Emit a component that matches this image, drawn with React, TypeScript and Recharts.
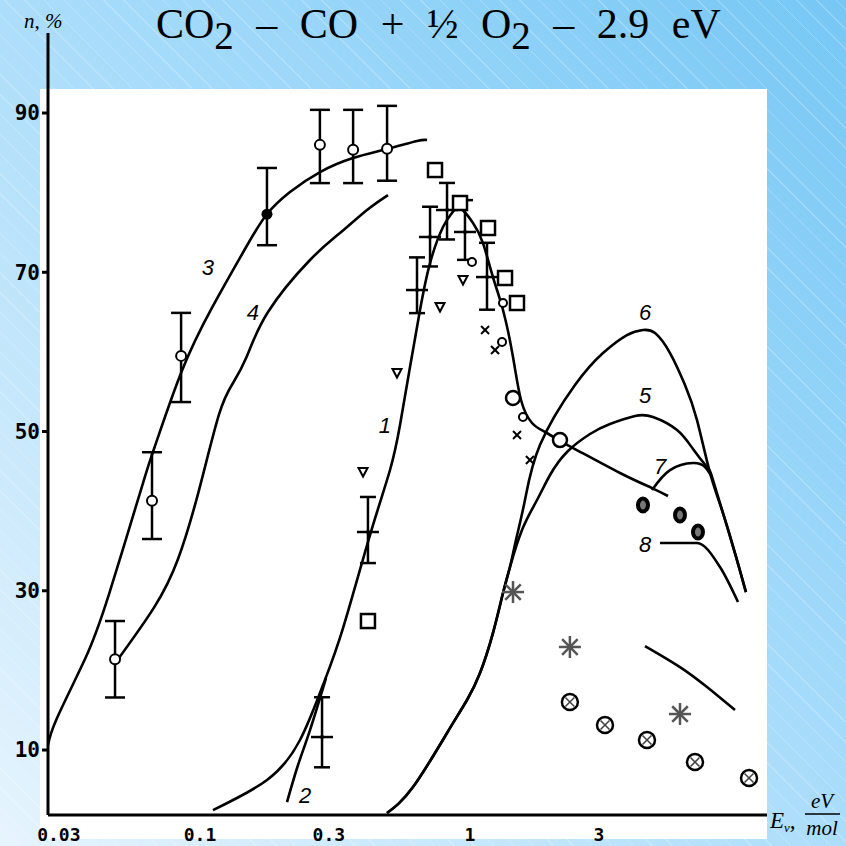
import React from 'react';
import { ComposedChart, Line, Scatter, XAxis, YAxis, ErrorBar } from 'recharts';

// E_v (eV/mol) on a log axis, n (%) on a linear axis
const eTicks = [0.03, 0.1, 0.3, 1, 3];
const nTicks = [10, 30, 50, 70, 90];

const curve1 = [
  [0.1117, 2.46], [0.1771, 6.23], [0.2346, 11.26], [0.2854, 18.16], [0.3386, 25.32],
  [0.4262, 37.0], [0.5055, 45.17], [0.5505, 50.82], [0.5995, 58.1],
  [0.6529, 65.26], [0.7112, 71.16], [0.7943, 75.68], [0.8577, 77.45], [0.9183, 78.07],
  [1.026, 76.19], [1.117, 73.67], [1.216, 69.4], [1.325, 65.26], [1.443, 59.36],
  [1.545, 53.96], [1.697, 51.07], [1.896, 49.94], [2.154, 48.81], [2.448, 47.8],
  [3.594, 44.79], [4.722, 42.9], [5.412, 41.9],
];
const curve2 = [[0.21, 3.47], [0.2307, 8.12], [0.2555, 12.51], [0.2929, 19.04]];
const curve3 = [
  [0.02735, 10.63], [0.02954, 14.02], [0.0375, 21.43], [0.04603, 29.59], [0.06149, 43.53],
  [0.06753, 47.8], [0.08505, 57.35], [0.1108, 65.56], [0.1493, 73.36], [0.1771, 77.32],
  [0.2154, 80.08], [0.2783, 82.59], [0.3686, 84.35], [0.4927, 85.48], [0.6364, 86.49],
  [0.6933, 86.61],
];
const curve4 = [
  [0.04886, 21.05], [0.06753, 27.88], [0.0829, 33.99], [0.09915, 42.65], [0.1176, 52.14],
  [0.1325, 56.09], [0.1493, 59.48], [0.1786, 65.01], [0.2555, 71.54], [0.33, 74.93],
  [0.4154, 77.82], [0.4969, 79.7],
];
const curve5 = [
  [0.4927, 2.09], [0.615, 5.35], [0.8221, 12.14], [0.9747, 16.28], [1.089, 19.67],
  [1.216, 24.69], [1.325, 29.72], [1.406, 32.98], [1.558, 37.63], [1.771, 41.4],
  [1.979, 44.54], [2.287, 47.43], [2.783, 49.69], [3.3, 50.94], [4.084, 51.95],
  [4.762, 51.82], [5.845, 50.19], [6.699, 47.8], [7.548, 45.54], [7.878, 44.29],
  [8.65, 39.76], [9.747, 33.86], [10.52, 29.84],
];
const curve6 = [
  [0.4927, 2.09], [0.615, 5.35], [0.8221, 12.14], [0.9747, 16.28], [1.089, 19.67],
  [1.216, 24.69], [1.325, 29.72], [1.406, 32.98], [1.48, 36.37], [1.598, 41.4],
  [1.816, 48.3], [2.448, 55.84], [3.109, 59.86], [3.815, 62.12], [4.372, 62.75],
  [4.844, 62.37], [5.506, 59.86], [6.256, 55.84], [6.931, 51.44], [7.745, 44.79],
  [8.65, 39.76], [9.747, 33.86], [10.52, 29.84],
];
const curve7 = [[4.722, 42.65], [5.506, 45.16], [6.699, 46.04], [7.42, 45.54], [7.878, 44.29]];
const curve8 = [[5.054, 36.0], [6.931, 36.0], [8.433, 32.98], [9.831, 28.59]];
const curve9 = [[4.447, 23.06], [5.995, 20.42], [7.548, 17.91], [9.583, 15.02]];

// [E, n, lower error, upper error]
const openWithErr = [
  [0.04844, 21.4, 4.8, 4.8], [0.0664, 41.3, 4.8, 6.1], [0.0851, 59.5, 5.8, 5.4],
  [0.278, 86.0, 4.8, 4.4], [0.369, 85.4, 4.2, 5.0], [0.493, 85.5, 4.0, 5.4],
];
const filledWithErr = [[0.177, 77.3, 3.9, 5.8]];
const crossWithErr = [
  [0.2831, 11.63, 3.8, 5.0], [0.4188, 37.38, 3.9, 4.4], [0.6364, 67.77, 2.9, 4.1],
  [0.7112, 74.43, 3.7, 3.8], [0.8221, 77.82, 3.7, 3.4], [0.958, 75.06, 3.5, 4.0],
  [1.156, 69.4, 4.1, 4.3],
];
const triangles = [[0.4016, 44.91], [0.5365, 57.35], [0.7743, 65.64], [0.942, 69.03]];
const squares = [[0.4188, 26.2], [0.742, 82.84], [0.9183, 78.7], [1.166, 75.56], [1.348, 69.28], [1.493, 66.14]];
const smallCircles = [[1.017, 71.29], [1.325, 66.14], [1.314, 61.24], [1.571, 51.82]];
const bigCircles = [[1.443, 54.21], [2.154, 48.93]];
const xMarks = [[1.137, 62.75], [1.238, 60.24], [1.493, 49.56], [1.667, 46.42]];
const stars = [[1.443, 29.84], [2.344, 22.94], [5.995, 14.52]];
const circledX = [[2.344, 16.03], [3.162, 13.14], [4.524, 11.26], [6.813, 8.49], [10.8, 6.48]];
const darkRings = [[4.372, 40.77], [5.995, 39.51], [6.989, 37.38]];

const curveLabels = ['3', '4', '1', '2', '6', '5', '7', '8'];
const curveLabelE = [0.107, 0.157, 0.484, 0.245, 4.45, 4.45, 5.06, 4.45];
const curveLabelN = [70.6, 65.0, 50.8, 4.3, 64.9, 54.5, 45.6, 35.8];

const toPts = (rows: number[][]) => rows.map(([e, n]) => ({ e, n }));
const toErrPts = (rows: number[][]) => rows.map(([e, n, lo, hi]) => ({ e, n, err: [lo, hi] }));
const labelPts = curveLabels.map((t, i) => ({ e: curveLabelE[i], n: curveLabelN[i], t }));

const ink = '#000';

const OpenCircle = ({ cx, cy }: any) => <circle cx={cx} cy={cy} r={5} fill="#fff" stroke={ink} strokeWidth={2} />;
const BigCircle = ({ cx, cy }: any) => <circle cx={cx} cy={cy} r={7} fill="#fff" stroke={ink} strokeWidth={2.5} />;
const SmallCircle = ({ cx, cy }: any) => <circle cx={cx} cy={cy} r={4} fill="#fff" stroke={ink} strokeWidth={2} />;
const FilledCircle = ({ cx, cy }: any) => <circle cx={cx} cy={cy} r={5.5} fill={ink} />;
const Cross = ({ cx, cy }: any) => (
  <g>
    <line x1={cx - 11} y1={cy} x2={cx + 11} y2={cy} stroke={ink} strokeWidth={2.5} />
    <circle cx={cx} cy={cy} r={2} fill={ink} />
  </g>
);
const TriangleDown = ({ cx, cy }: any) => (
  <polygon points={`${cx - 4.5},${cy - 4} ${cx + 4.5},${cy - 4} ${cx},${cy + 4.5}`} fill="#fff" stroke={ink} strokeWidth={2} />
);
const Square = ({ cx, cy }: any) => (
  <rect x={cx - 7} y={cy - 7} width={14} height={14} fill="#fff" stroke={ink} strokeWidth={2.5} />
);
const XMark = ({ cx, cy }: any) => (
  <g stroke={ink} strokeWidth={2}>
    <line x1={cx - 4} y1={cy - 4} x2={cx + 4} y2={cy + 4} />
    <line x1={cx - 4} y1={cy + 4} x2={cx + 4} y2={cy - 4} />
  </g>
);
const Star = ({ cx, cy }: any) => (
  <g stroke="#555" strokeWidth={2.5}>
    {[0, 45, 90, 135].map((a) => {
      const r = (a * Math.PI) / 180;
      const dx = Math.cos(r) * 11;
      const dy = Math.sin(r) * 11;
      return <line key={a} x1={cx - dx} y1={cy - dy} x2={cx + dx} y2={cy + dy} />;
    })}
  </g>
);
const CircledX = ({ cx, cy }: any) => (
  <g>
    <circle cx={cx} cy={cy} r={8} fill="#fff" stroke={ink} strokeWidth={2.5} />
    <line x1={cx - 4.5} y1={cy - 4.5} x2={cx + 4.5} y2={cy + 4.5} stroke="#444" strokeWidth={1.6} />
    <line x1={cx - 4.5} y1={cy + 4.5} x2={cx + 4.5} y2={cy - 4.5} stroke="#444" strokeWidth={1.6} />
  </g>
);
const DarkRing = ({ cx, cy }: any) => (
  <ellipse cx={cx} cy={cy} rx={5} ry={6.5} fill="#777" stroke={ink} strokeWidth={4} />
);
const CurveLabel = ({ cx, cy, payload }: any) => (
  <text x={cx} y={cy} textAnchor="middle" dominantBaseline="central" fontFamily="Liberation Sans"
    fontStyle="italic" fontSize={22} fill={ink}>
    {payload?.t}
  </text>
);

// curve 8 has a flat shoulder, so it keeps a monotone fit
const curves: [number[][], 'natural' | 'monotone'][] = [
  [curve1, 'natural'], [curve2, 'natural'], [curve3, 'natural'], [curve4, 'natural'],
  [curve5, 'natural'], [curve6, 'natural'], [curve7, 'natural'], [curve8, 'monotone'],
  [curve9, 'natural'],
];

export default function App() {
  return (
    <div style={{ position: 'fixed', left: 0, top: 0, width: 846, height: 846, overflow: 'hidden',
      background: 'repeating-linear-gradient(45deg, rgba(255,255,255,0) 0px, rgba(255,255,255,0) 13px, rgba(255,255,255,0.22) 13px, rgba(255,255,255,0.22) 14px), linear-gradient(225deg, #76c7f5 0%, #a6dbfa 45%, #e6f4fd 100%)' }}>
      <div style={{ position: 'absolute', left: 40, top: 89, width: 727, height: 750, background: '#fff' }} />
      <div style={{ position: 'absolute', left: 0, top: 0 }}>
        <ComposedChart width={846} height={846} margin={{ top: 33, right: 79, bottom: 1, left: 8 }}>
          <XAxis dataKey="e" type="number" scale="log" domain={[0.02735, 12.59]} allowDataOverflow
            ticks={eTicks} height={30} tickLine={false} tickMargin={7}
            axisLine={{ stroke: ink, strokeWidth: 3 }}
            tick={{ fill: ink, fontSize: 18, fontWeight: 700, fontFamily: 'DejaVu Sans Mono' }}
            tickFormatter={(v: number) => String(v)} />
          <YAxis dataKey="n" type="number" domain={[1.84, 100.05]} allowDataOverflow
            ticks={nTicks} width={40} tickSize={6}
            tickLine={{ stroke: ink, strokeWidth: 3 }}
            axisLine={{ stroke: ink, strokeWidth: 3 }}
            tick={{ fill: ink, fontSize: 21, fontWeight: 700, fontFamily: 'DejaVu Sans Mono' }} />
          {curves.map(([c, kind], i) => (
            <Line key={i} data={toPts(c)} dataKey="n" type={kind} stroke={ink} strokeWidth={2.6}
              dot={false} activeDot={false} isAnimationActive={false} />
          ))}
          <Scatter data={toErrPts(openWithErr)} dataKey="n" shape={OpenCircle} isAnimationActive={false}>
            <ErrorBar dataKey="err" direction="y" width={10} stroke={ink} strokeWidth={2.5} />
          </Scatter>
          <Scatter data={toErrPts(filledWithErr)} dataKey="n" shape={FilledCircle} isAnimationActive={false}>
            <ErrorBar dataKey="err" direction="y" width={10} stroke={ink} strokeWidth={2.5} />
          </Scatter>
          <Scatter data={toErrPts(crossWithErr)} dataKey="n" shape={Cross} isAnimationActive={false}>
            <ErrorBar dataKey="err" direction="y" width={8} stroke={ink} strokeWidth={2.5} />
          </Scatter>
          <Scatter data={toPts(triangles)} dataKey="n" shape={TriangleDown} isAnimationActive={false} />
          <Scatter data={toPts(squares)} dataKey="n" shape={Square} isAnimationActive={false} />
          <Scatter data={toPts(smallCircles)} dataKey="n" shape={SmallCircle} isAnimationActive={false} />
          <Scatter data={toPts(bigCircles)} dataKey="n" shape={BigCircle} isAnimationActive={false} />
          <Scatter data={toPts(xMarks)} dataKey="n" shape={XMark} isAnimationActive={false} />
          <Scatter data={toPts(stars)} dataKey="n" shape={Star} isAnimationActive={false} />
          <Scatter data={toPts(circledX)} dataKey="n" shape={CircledX} isAnimationActive={false} />
          <Scatter data={toPts(darkRings)} dataKey="n" shape={DarkRing} isAnimationActive={false} />
          <Scatter data={labelPts} dataKey="n" shape={CurveLabel} isAnimationActive={false} />
        </ComposedChart>
      </div>
      <svg width={846} height={846} style={{ position: 'absolute', left: 0, top: 0, pointerEvents: 'none' }}>
        <text x={156} y={38} fontFamily="Liberation Serif" fontSize={42} wordSpacing={12} fill={ink}>
          CO<tspan dy={11} fontSize={39}>2</tspan>
          <tspan dy={-11}> – CO + ½ O</tspan>
          <tspan dy={11} fontSize={39}>2</tspan>
          <tspan dy={-11}> – 2.9 eV</tspan>
        </text>
        <text x={24} y={28} fontFamily="Liberation Serif" fontStyle="italic" fontSize={21} fill={ink}>n, %</text>
        <text x={770} y={828} fontFamily="Liberation Serif" fontStyle="italic" fontSize={23} fill={ink}>
          E<tspan dy={4} fontSize={13}>v</tspan><tspan dy={-4}>,</tspan>
        </text>
        <text x={822} y={808} textAnchor="middle" fontFamily="Liberation Serif" fontStyle="italic" fontSize={21} fill={ink}>eV</text>
        <line x1={805} y1={814} x2={840} y2={814} stroke={ink} strokeWidth={1.5} />
        <text x={822} y={835} textAnchor="middle" fontFamily="Liberation Serif" fontStyle="italic" fontSize={21} fill={ink}>mol</text>
      </svg>
    </div>
  );
}
